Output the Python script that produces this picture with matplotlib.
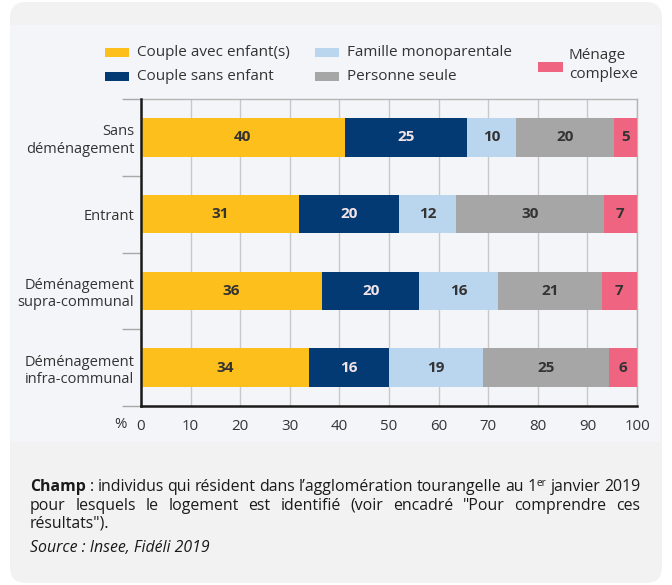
import matplotlib
matplotlib.use('Agg')
import matplotlib.pyplot as plt
from matplotlib.patches import FancyBboxPatch, Rectangle
from matplotlib.transforms import IdentityTransform
import numpy as np

plt.rcParams['font.family'] = ['Open Sans', 'DejaVu Sans']

# ---------------- data ----------------
categories = ['Sans\ndéménagement', 'Entrant',
              'Déménagement\nsupra-communal', 'Déménagement\ninfra-communal']
series = ['Couple avec enfant(s)', 'Couple sans enfant', 'Famille monoparentale',
          'Personne seule', 'Ménage\ncomplexe']
colors = ['#FDBF1B', '#033A73', '#BAD5EE', '#A6A6A6', '#EF6581']

couple_enfants = [41.1, 31.8, 36.5, 33.9]
couple_sans = [24.6, 20.2, 19.6, 16.1]
monoparentale = [10.0, 11.6, 15.9, 18.9]
personne_seule = [19.6, 29.7, 20.9, 25.4]
menage_complexe = [4.7, 6.7, 7.1, 5.7]

lab_couple_enfants = ['40', '31', '36', '34']
lab_couple_sans = ['25', '20', '20', '16']
lab_monoparentale = ['10', '12', '16', '19']
lab_personne_seule = ['20', '30', '21', '25']
lab_menage_complexe = ['5', '7', '7', '6']

xticks = [0, 10, 20, 30, 40, 50, 60, 70, 80, 90, 100]

values = [couple_enfants, couple_sans, monoparentale, personne_seule, menage_complexe]
labels = [lab_couple_enfants, lab_couple_sans, lab_monoparentale, lab_personne_seule,
          lab_menage_complexe]
label_colors = ['#333333', '#F3E4EA', '#333333', '#333333', '#333333']

W, H = 672, 585
fig = plt.figure(figsize=(W / 100, H / 100), dpi=100)
fig.patch.set_facecolor('white')
I = IdentityTransform()

# background panels (display pixel coords, origin bottom-left)
fig.add_artist(FancyBboxPatch((10, 2), 652, 581,
                              boxstyle='round,pad=0,rounding_size=16',
                              facecolor='#F2F2F3', edgecolor='none',
                              transform=I, zorder=-10))
fig.add_artist(Rectangle((10, H - 442), 650, 417, facecolor='#F4F5F8',
                         edgecolor='none', transform=I, zorder=-9))

# ---------------- axes ----------------
ax_l, ax_r, ax_t, ax_b = 141, 637, 99, 406
ax = fig.add_axes([ax_l / W, 1 - ax_b / H, (ax_r - ax_l) / W, (ax_b - ax_t) / H])
ax.set_facecolor('#F4F5F8')

y = np.arange(len(categories))
left = np.zeros(len(categories))
for vals, col, labs, lc in zip(values, colors, labels, label_colors):
    vals = np.array(vals)
    ax.barh(y, vals, left=left, height=0.5, color=col, edgecolor='none', zorder=3)
    for yi, l, v, s in zip(y, left, vals, labs):
        ax.text(l + v / 2, yi, s, ha='center', va='center', fontsize=11,
                fontweight='bold', color=lc, zorder=4)
    left += vals

ax.set_xlim(0, 100)
ax.set_ylim(len(categories) - 0.5, -0.5)
ax.set_xticks(xticks)
ax.set_xticklabels([str(t) for t in xticks])
ax.set_yticks(y)
ax.set_yticklabels(categories, ha='right', multialignment='right')
ax.set_yticks(np.arange(-0.5, len(categories) + 0.5, 1), minor=True)

ax.tick_params(axis='x', length=0, pad=9, labelsize=10.8, labelcolor='#333333')
ax.tick_params(axis='y', which='major', length=0, pad=5, labelsize=10.5,
               labelcolor='#333333')
ax.tick_params(axis='y', which='minor', length=13.5, width=1, color='#A8A8A8',
               direction='out')

ax.grid(axis='x', color='#C8C8C8', linewidth=1, zorder=0)
ax.set_axisbelow(True)

for side in ['left', 'bottom']:
    ax.spines[side].set_color('#1A1A1A')
    ax.spines[side].set_linewidth(1.8)
    ax.spines[side].set_zorder(5)
for side in ['top', 'right']:
    ax.spines[side].set_color('#B5B5B5')
    ax.spines[side].set_linewidth(1)

fig.text(120, H - 424, '%', transform=I, ha='center', va='center',
         fontsize=10.8, color='#333333')

# ---------------- legend ----------------
leg_items = [
    (105, 52.5, 137, colors[0], series[0]),
    (105, 76.5, 137, colors[1], series[1]),
    (315, 52.5, 347, colors[2], series[2]),
    (315, 76.5, 347, colors[3], series[3]),
]
for bx, cy, tx, col, s in leg_items:
    fig.add_artist(Rectangle((bx, H - cy - 4.5), 24, 9, facecolor=col,
                             edgecolor='none', transform=I))
    fig.text(tx, H - cy, s, transform=I, ha='left', va='center',
             fontsize=11, color='#333333')
fig.add_artist(Rectangle((538, H - 67 - 5), 25, 10, facecolor=colors[4],
                         edgecolor='none', transform=I))
fig.text(569, H - 65, series[4], transform=I, ha='left', va='center',
         fontsize=11, color='#333333', linespacing=1.45)

# ---------------- footnote ----------------
renderer = fig.canvas.get_renderer()
FN = 11.4


def place_line(tokens, x0, x1, base, justify=True):
    items = []
    for tok in tokens:
        s, kw, sp, dy = tok
        t = fig.text(0, 0, s, transform=I, ha='left', va='baseline',
                     color='#1A1A1A', **kw)
        w = t.get_window_extent(renderer).width
        items.append((t, w, sp, dy))
    nsp = sum(1 for it in items if it[2])
    total = sum(it[1] for it in items)
    probe = fig.text(0, 0, 'a a', transform=I, fontsize=FN)
    probe2 = fig.text(0, 0, 'aa', transform=I, fontsize=FN)
    space = probe.get_window_extent(renderer).width - probe2.get_window_extent(renderer).width
    probe.remove(); probe2.remove()
    if justify and nsp:
        gap = max((x1 - x0 - total) / nsp, space * 0.6)
    else:
        gap = space
    x = x0
    for t, w, sp, dy in items:
        if sp:
            x += gap
        t.set_position((x, H - base + dy))
        x += w


norm = {'fontsize': FN}
bold = {'fontsize': FN, 'fontweight': 'bold'}
sup = {'fontsize': 7.2}

line1 = [('Champ', bold, False, 0), (':', norm, True, 0)]
for wd in 'individus qui résident dans l’agglomération tourangelle au'.split():
    line1.append((wd, norm, True, 0))
line1 += [('1', norm, True, 0), ('er', sup, False, 5.5), ('janvier', norm, True, 0),
          ('2019', norm, True, 0)]
place_line(line1, 30, 640, 491)

line2 = [(wd, norm, i > 0, 0) for i, wd in enumerate(
    'pour lesquels le logement est identifié (voir encadré "Pour comprendre ces'.split())]
place_line(line2, 30, 640, 510)

line3 = [('résultats").', norm, False, 0)]
place_line(line3, 30, 640, 528, justify=False)

fig.text(30, H - 552, 'Source : Insee, Fidéli 2019', transform=I, ha='left',
         va='baseline', fontsize=FN, fontstyle='italic', color='#1A1A1A')

fig.savefig('out.png', dpi=100, facecolor='white')
